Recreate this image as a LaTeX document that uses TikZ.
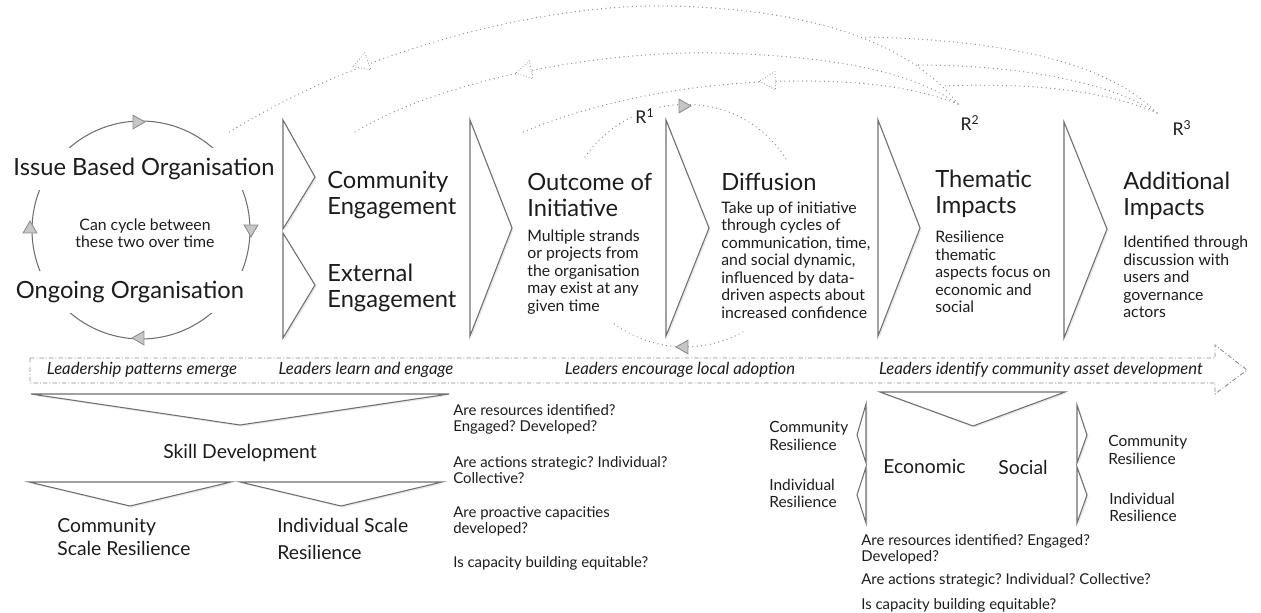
\documentclass[tikz,border=0pt]{standalone}
\usepackage{fontspec}
\setmainfont{Lato}
\usepackage{xcolor}
\usepackage{tikz}
\usetikzlibrary{shapes.geometric,shadows}

\definecolor{lineg}{HTML}{6F6F6F}
\definecolor{dotg}{HTML}{8A8A8A}
\definecolor{headg}{HTML}{C6C6C6}
\definecolor{inkg}{HTML}{1C1C1C}

\newcommand{\dgBig}{\fontsize{13.5}{15}\selectfont}
\newcommand{\dgNote}{\fontsize{9}{10}\selectfont}
\newcommand{\dgQ}{\fontsize{8.5}{9.2}\selectfont}
\newcommand{\dgMid}{\fontsize{11}{13}\selectfont}
\newcommand{\dgRes}{\fontsize{8.8}{9.8}\selectfont}
\newcommand{\dgBand}{\fontsize{9.5}{10}\selectfont\itshape}
\frenchspacing

\begin{document}
\begin{tikzpicture}[x=0.02cm, y=-0.02cm,
	chevron/.style={draw=lineg, fill=white, line width=0.6pt, line join=miter, drop shadow={opacity=0.18, shadow xshift=0.9pt, shadow yshift=-0.9pt}},
	fbline/.style={draw=dotg, line width=0.75pt, line cap=round, dash pattern=on 0pt off 2.5pt},
	band/.style={draw=dotg, line width=0.5pt, dash pattern=on 2.5pt off 1.2pt on 0.5pt off 1.2pt},
	openhead/.style={regular polygon, regular polygon sides=3, draw=dotg, fill=white, line width=0.6pt, line cap=round, dash pattern=on 0pt off 1.6pt, inner sep=0pt, minimum size=12pt},
	fillhead/.style={regular polygon, regular polygon sides=3, draw=lineg!80, fill=headg, line width=0.5pt, inner sep=0pt, minimum size=9pt},
	txt/.style={text=inkg, inner sep=0pt, anchor=west, align=left},
	bigtxt/.style={txt, font=\dgBig},
	notetxt/.style={txt, font=\dgNote},
	qtxt/.style={txt, font=\dgQ},
	midtxt/.style={txt, font=\dgMid},
	restxt/.style={txt, font=\dgRes},
	bandtxt/.style={text=inkg, inner sep=0pt, font=\dgBand},
	cyctxt/.style={text=inkg, fill=white, font=\dgBig, inner xsep=2pt, inner ysep=6pt}
]
	\useasboundingbox (0,0) rectangle (1261,612);

	% cycle between the two kinds of organisation
	\draw[draw=lineg, line width=0.6pt] (141,230) circle[radius=109];
	\node[cyctxt] (issue) at (144,169) {Issue Based Organisation};
	\node[cyctxt] (ongoing) at (130,292) {Ongoing Organisation};
	\node[text=inkg, font=\fontsize{9}{9.6}\selectfont, align=center, inner sep=0pt] (cyclenote) at (145,233) {Can cycle between\\these two over time};
	\node[fillhead, shape border rotate=-90] (cyctop) at (137,122) {};
	\node[fillhead, shape border rotate=180] (cycright) at (251,229) {};
	\node[fillhead, shape border rotate=90] (cycbottom) at (140,338) {};
	\node[fillhead, shape border rotate=0] (cycleft) at (30,229) {};

	% main chevrons
	\draw[chevron] (283,120) -- (315,177) -- (283,229) -- cycle;
	\draw[chevron] (283,233) -- (315,285) -- (283,338) -- cycle;
	\draw[chevron] (470,120) -- (512,228) -- (470,336) -- cycle;
	\draw[chevron] (666,120) -- (709,228) -- (666,336) -- cycle;
	\draw[chevron] (878,120) -- (920,228) -- (878,336) -- cycle;
	\draw[chevron] (1064,122) -- (1107,229) -- (1064,338) -- cycle;

	\node[bigtxt] (comm) at (327,195) {Community\\Engagement};
	\node[bigtxt] (ext) at (327,288) {External\\Engagement};
	\node[bigtxt] (outcome) at (527,195) {Outcome of\\Initiative};
	\node[notetxt] (outcomenote) at (527,272) {Multiple strands\\or projects from\\the organisation\\may exist at any\\given time};
	\node[bigtxt] (diff) at (721,182) {Diffusion};
	\node[notetxt] (diffnote) at (721,260) {Take up of initiative\\through cycles of\\communication, time,\\and social dynamic,\\influenced by data-\\driven aspects about\\increased confidence};
	\node[bigtxt] (them) at (935,194) {Thematic\\Impacts};
	\node[notetxt] (themnote) at (935,272) {Resilience\\thematic\\aspects focus on\\economic and\\social};
	\node[bigtxt] (addl) at (1123,196) {Additional\\Impacts};
	\node[notetxt] (addlnote) at (1123,277) {Identified through\\discussion with\\users and\\governance\\actors};

	% R1 loop round the diffusion step
	\draw[fbline] (585,157) .. controls (634,87) and (740,86) .. (786,159);
	\draw[fbline] (743,332) .. controls (701,355) and (651,351) .. (613,323);
	\node[fill=white, inner sep=1pt, text=inkg, font=\fontsize{10}{12}\selectfont] (r1) at (645,116) {R\textsuperscript{1}};
	\node[fillhead, shape border rotate=-90] (r1top) at (683,106) {};
	\node[fillhead, shape border rotate=90] (r1bottom) at (684,347) {};

	% feedback from R2 and R3
	\node[text=inkg, inner sep=0pt, font=\fontsize{10}{12}\selectfont] (r2) at (970,123) {R\textsuperscript{2}};
	\node[text=inkg, inner sep=0pt, font=\fontsize{10}{12}\selectfont] (r3) at (1182,128) {R\textsuperscript{3}};
	\coordinate (r2foot) at (958,104);
	\coordinate (r3foot) at (1157,113);
	\coordinate (t1) at (228,133);
	\coordinate (t2) at (355,132);
	\coordinate (t3) at (523,132);
	\draw[fbline] (r2foot) .. controls (900,30) and (780,8) .. (667,6) .. controls (540,4) and (360,50) .. (t1);
	\draw[fbline] (r2foot) .. controls (915,75) and (850,57) .. (720,53) .. controls (600,50) and (440,80) .. (t2);
	\draw[fbline] (r2foot) .. controls (915,88) and (870,81) .. (800,81) .. controls (700,81) and (600,100) .. (t3);
	\draw[fbline] (r3foot) .. controls (1120,75) and (1040,40) .. (863,37);
	\draw[fbline] (r3foot) .. controls (1110,82) and (1020,65) .. (917,65);
	\draw[fbline] (r3foot) .. controls (1100,88) and (1020,83) .. (943,86);
	\node[openhead, shape border rotate=110] (head1) at (363,63) {};
	\node[openhead, shape border rotate=102] (head2) at (526,71) {};
	\node[openhead, shape border rotate=92] (head3) at (770,81) {};

	% leadership band
	\draw[band] (30,358) -- (1215,358) -- (1215,345) -- (1247,370) -- (1215,394) -- (1215,383) -- (30,383) -- cycle;
	\node[bandtxt] (lead1) at (142,370) {Leadership patterns emerge};
	\node[bandtxt] (lead2) at (366,370) {Leaders learn and engage};
	\node[bandtxt] (lead3) at (680,370) {Leaders encourage local adoption};
	\node[bandtxt] (lead4) at (1041,370) {Leaders identify community asset development};

	% skill development
	\draw[chevron] (31,394) -- (449,394) -- (240,425) -- cycle;
	\node[text=inkg, inner sep=0pt, font=\dgMid] (skill) at (240,453) {Skill Development};
	\draw[chevron] (29,482) -- (231,482) -- (130,506) -- cycle;
	\draw[chevron] (240,482) -- (442,482) -- (341,506) -- cycle;
	\node[midtxt] (cscale) at (57,537) {Community\\Scale Resilience};
	\node[midtxt, font=\fontsize{11}{15}\selectfont] (iscale) at (277,539) {Individual Scale\\Resilience};
	\node[qtxt] (qres) at (453,419) {Are resources identified?\\Engaged? Developed?};
	\node[qtxt] (qact) at (453,470) {Are actions strategic? Individual?\\Collective?};
	\node[qtxt] (qpro) at (453,521) {Are proactive capacities\\developed?};
	\node[qtxt] (qequ) at (453,563) {Is capacity building equitable?};

	% thematic split
	\draw[chevron] (880,392) -- (1065,392) -- (973,426) -- cycle;
	\draw[chevron] (866,404) -- (857,435) -- (866,463) -- cycle;
	\draw[chevron] (866,467) -- (857,495) -- (866,523) -- cycle;
	\draw[chevron] (1077,405) -- (1087,435) -- (1077,463) -- cycle;
	\draw[chevron] (1077,467) -- (1087,495) -- (1077,523) -- cycle;
	\node[midtxt] (econ) at (883,467) {Economic};
	\node[midtxt] (social) at (998,467) {Social};
	\node[restxt] (lcomm) at (769,436) {Community\\Resilience};
	\node[restxt] (lind) at (769,493) {Individual\\Resilience};
	\node[restxt] (rcomm) at (1108,450) {Community\\Resilience};
	\node[restxt] (rind) at (1109,507) {Individual\\Resilience};
	\node[qtxt] (rqres) at (861,549) {Are resources identified? Engaged?\\Developed?};
	\node[qtxt] (rqact) at (861,580) {Are actions strategic? Individual? Collective?};
	\node[qtxt] (rqequ) at (861,605) {Is capacity building equitable?};
\end{tikzpicture}
\end{document}
